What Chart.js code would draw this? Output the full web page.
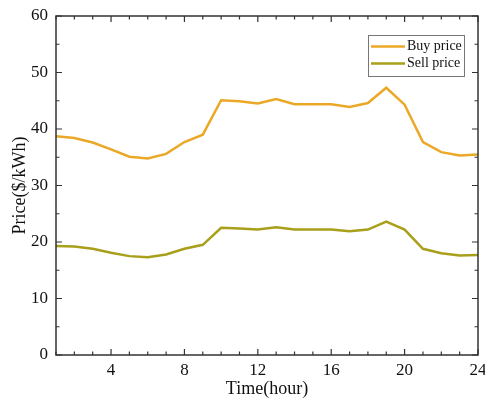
<!DOCTYPE html>
<html lang="en">
<head>
  <meta charset="UTF-8">
  <title>Buy and sell price</title>
  <script src="https://cdn.jsdelivr.net/npm/chart.js"></script>
  <style>
    html, body { margin: 0; padding: 0; background: #fff; }
    #wrap { width: 485px; height: 400px; }
  </style>
</head>
<body>
  <div id="wrap"><canvas id="priceChart" width="485" height="400"></canvas></div>
  <script>
    const hours = [1, 2, 3, 4, 5, 6, 7, 8, 9, 10, 11, 12, 13, 14, 15, 16, 17, 18, 19, 20, 21, 22, 23, 24];
    const buyPrice = [38.7, 38.4, 37.6, 36.4, 35.1, 34.8, 35.6, 37.7, 39.0, 45.1, 44.9, 44.5, 45.3, 44.4, 44.4, 44.4, 43.9, 44.6, 47.3, 44.3, 37.7, 35.9, 35.3, 35.5];
    const sellPrice = [19.3, 19.2, 18.8, 18.1, 17.5, 17.3, 17.8, 18.8, 19.5, 22.5, 22.4, 22.2, 22.6, 22.2, 22.2, 22.2, 21.9, 22.2, 23.6, 22.2, 18.8, 18.0, 17.6, 17.7];
    const xTicks = [4, 8, 12, 16, 20, 24];
    const seriesNames = ['Buy price', 'Sell price'];

    const axisColor = '#333';
    const serif = '"Liberation Serif", "DejaVu Serif", serif';

    // box, inward ticks on all four sides, legend with border
    const framePlugin = {
      id: 'frame',
      afterDraw(chart) {
        const ctx = chart.ctx;
        const a = chart.chartArea;
        const xs = chart.scales.x, ys = chart.scales.y;
        ctx.save();
        ctx.strokeStyle = axisColor;
        ctx.lineWidth = 1.5;
        ctx.strokeRect(a.left, a.top, a.right - a.left, a.bottom - a.top);

        ctx.lineWidth = 1.2;
        ctx.beginPath();
        for (let h = 1; h <= 24; h++) {
          const px = xs.getPixelForValue(h);
          const len = h % 4 === 0 ? 6 : 3.5;
          ctx.moveTo(px, a.bottom); ctx.lineTo(px, a.bottom - len);
          ctx.moveTo(px, a.top); ctx.lineTo(px, a.top + len);
        }
        for (let v = 0; v <= 60; v += 5) {
          const py = ys.getPixelForValue(v);
          const len = v % 10 === 0 ? 6 : 3.5;
          ctx.moveTo(a.left, py); ctx.lineTo(a.left + len, py);
          ctx.moveTo(a.right, py); ctx.lineTo(a.right - len, py);
        }
        ctx.stroke();

        // legend
        const lx = 368, ly = 35, lw = 96, lh = 41;
        ctx.fillStyle = '#fff';
        ctx.fillRect(lx, ly, lw, lh);
        ctx.strokeStyle = '#777';
        ctx.lineWidth = 1;
        ctx.strokeRect(lx + 0.5, ly + 0.5, lw, lh);
        ctx.font = '14px ' + serif;
        ctx.textBaseline = 'middle';
        chart.data.datasets.forEach((ds, i) => {
          const y = ly + 11.5 + i * 17;
          ctx.strokeStyle = ds.borderColor;
          ctx.lineWidth = 2.5;
          ctx.beginPath();
          ctx.moveTo(lx + 3, y); ctx.lineTo(lx + 37, y);
          ctx.stroke();
          ctx.fillStyle = '#111';
          ctx.fillText(ds.label, lx + 39, y);
        });
        ctx.restore();
      }
    };

    new Chart(document.getElementById('priceChart'), {
      type: 'line',
      data: {
        datasets: [
          {
            label: seriesNames[0],
            data: hours.map((h, i) => ({ x: h, y: buyPrice[i] })),
            borderColor: '#EBA826',
            borderWidth: 2.5,
            pointRadius: 0,
            tension: 0,
            fill: false
          },
          {
            label: seriesNames[1],
            data: hours.map((h, i) => ({ x: h, y: sellPrice[i] })),
            borderColor: '#A89F1A',
            borderWidth: 2.5,
            pointRadius: 0,
            tension: 0,
            fill: false
          }
        ]
      },
      options: {
        responsive: false,
        animation: false,
        layout: { padding: { left: 8, right: 7, top: 16, bottom: 0 } },
        plugins: {
          legend: { display: false },
          tooltip: { enabled: false }
        },
        scales: {
          x: {
            type: 'linear',
            min: 1,
            max: 24,
            grid: { display: false, drawTicks: false },
            border: { display: false },
            afterBuildTicks(scale) {
              scale.ticks = xTicks.map(v => ({ value: v }));
            },
            afterFit(scale) {
              scale.height = 45;
              scale.paddingLeft = 0;
              scale.paddingRight = 0;
            },
            ticks: {
              color: '#111',
              font: { family: serif, size: 17 },
              padding: 5,
              maxRotation: 0
            },
            title: {
              display: true,
              text: 'Time(hour)',
              color: '#111',
              font: { family: serif, size: 18 },
              padding: { top: 0, bottom: 0 }
            }
          },
          y: {
            min: 0,
            max: 60,
            grid: { display: false, drawTicks: false },
            border: { display: false },
            afterFit(scale) {
              scale.width = 48;
              scale.paddingTop = 0;
              scale.paddingBottom = 0;
            },
            ticks: {
              stepSize: 10,
              color: '#111',
              font: { family: serif, size: 17 },
              padding: 8
            },
            title: {
              display: true,
              text: 'Price($/kWh)',
              color: '#111',
              font: { family: serif, size: 18 },
              padding: { top: 1, bottom: 0 }
            }
          }
        }
      },
      plugins: [framePlugin]
    });
  </script>
</body>
</html>
